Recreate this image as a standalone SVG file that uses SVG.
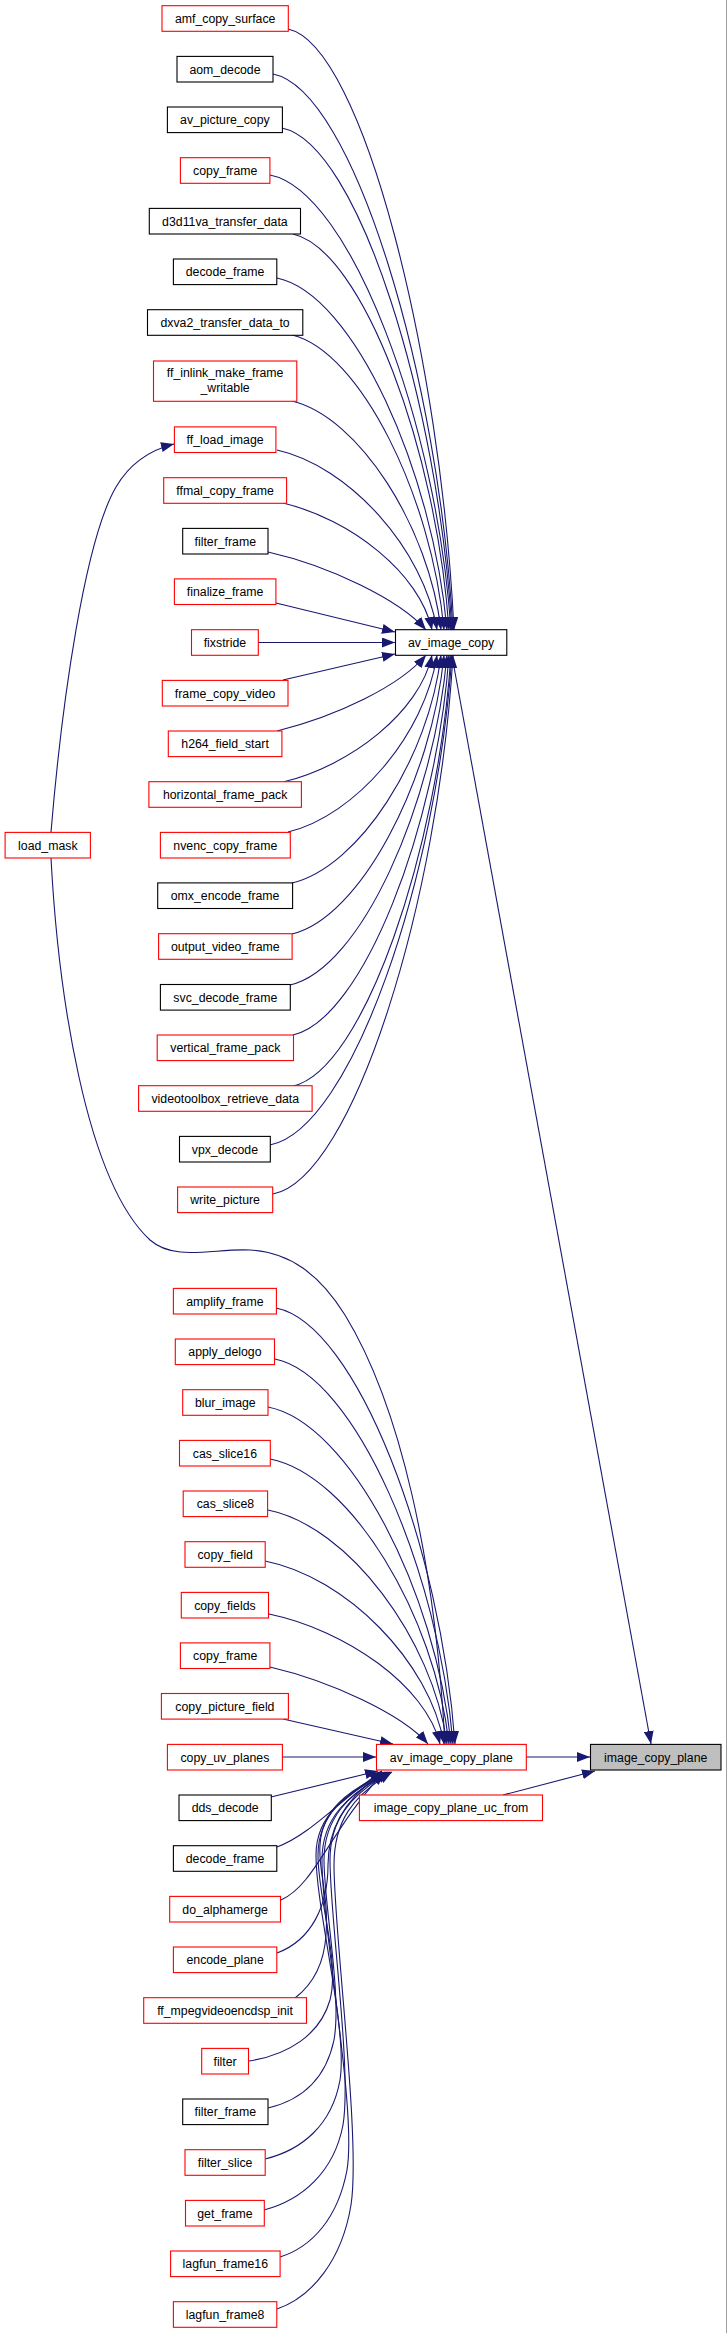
<svg xmlns="http://www.w3.org/2000/svg" width="727" height="2333" viewBox="0 0 727 2333">
<defs>
<style>
.n rect{fill:#ffffff;stroke:#000000;stroke-width:1.1}
.n.r rect{stroke:#ff0000}
.n.g rect{fill:#bfbfbf}
.n text{font-family:"Liberation Sans",Arial,sans-serif;font-size:12.3px;fill:#000000;text-anchor:middle}
#edges path{fill:none;stroke:#191970;stroke-width:1.1;marker-end:url(#a)}
</style>
<marker id="a" viewBox="0 0 13 10" refX="13" refY="5" markerWidth="13" markerHeight="10" markerUnits="userSpaceOnUse" orient="auto"><path d="M0,0L13,5L0,10z" fill="#191970"/></marker>
</defs>
<rect width="727" height="2333" fill="#ffffff"/>
<rect x="726" y="0" width="1" height="2333" fill="#a0a0a0"/>
<g id="edges">
<path d="M288,29 C363,45 441,360 454,630"/>
<path d="M273,74 C354,90 439,380 453,630"/>
<path d="M282,128 C359,144 438,404 452,630"/>
<path d="M270,175 C351,191 437,425 451,630"/>
<path d="M293,234 C363,250 437,452 449,630"/>
<path d="M277,278 C354,294 433,472 447,630"/>
<path d="M292,335 C360,351 432,497 444,630"/>
<path d="M292,401 C359,417 429,527 441,630"/>
<path d="M277,450 C349,466 424,549 437,630"/>
<path d="M283,503 C350,519 420,573 432,630"/>
<path d="M268,552 C330,566 400,600 426,630"/>
<path d="M276,603 L395,632"/>
<path d="M258,642.5 L395,642.5"/>
<path d="M283,680 L395,654"/>
<path d="M277,731 C337,716 400,686 426,655"/>
<path d="M283,782 C350,766 420,712 432,655"/>
<path d="M288,832 C355,816 425,735 437,655"/>
<path d="M292,883 C359,867 429,758 441,655"/>
<path d="M292,934 C360,918 432,781 444,655"/>
<path d="M290,985 C361,969 434,804 447,655"/>
<path d="M293,1035 C363,1019 437,826 449,655"/>
<path d="M293,1086 C364,1070 438,849 451,655"/>
<path d="M270,1145 C352,1129 437,876 452,655"/>
<path d="M273,1194 C354,1178 439,898 453,655"/>
<path d="M51,832 C62,700 85,540 116,487 C130,463 150,450 174,444"/>
<path d="M51,858 C58,990 85,1180 150,1240 C175,1262 215,1248 250,1250 C290,1252 320,1275 345,1315 C400,1405 435,1560 445,1744"/>
<path d="M452,656 L651,1744"/>
<path d="M276,1308 C357,1324 441,1548 455,1744"/>
<path d="M275,1359 C355,1375 439,1571 453,1744"/>
<path d="M268,1407 C350,1423 436,1592 451,1744"/>
<path d="M270,1459 C351,1475 435,1616 449,1744"/>
<path d="M268,1510 C348,1526 433,1639 447,1744"/>
<path d="M265,1561 C346,1577 430,1662 444,1744"/>
<path d="M269,1614 C346,1630 426,1686 440,1744"/>
<path d="M270,1667 C330,1681 402,1714 428,1744"/>
<path d="M283,1719 L393,1744"/>
<path d="M282,1757 L376,1757"/>
<path d="M271,1797 L378,1771"/>
<path d="M277,1847 C310,1835 340,1800 382,1771"/>
<path d="M281,1900 C315,1885 330,1830 384,1772"/>
<path d="M277,1953 C312,1940 328,1905 328,1865 C328,1825 348,1795 385,1772"/>
<path d="M295,1998 C312,1985 324,1965 326,1935 C329,1895 318,1870 320,1845 C322,1810 346,1792 386,1772"/>
<path d="M249,2061 C288,2055 320,2035 330,2000 C340,1960 318,1900 318,1855 C318,1815 346,1792 387,1772"/>
<path d="M268,2108 C302,2100 326,2078 334,2040 C342,1995 324,1905 324,1860 C324,1818 348,1794 388,1772"/>
<path d="M265,2159 C302,2150 332,2125 340,2080 C348,2030 316,1910 316,1855 C316,1815 346,1793 389,1772"/>
<path d="M264,2210 C302,2200 334,2172 343,2125 C352,2070 330,1920 330,1860 C330,1820 350,1795 390,1772"/>
<path d="M280,2257 C312,2247 338,2218 347,2170 C357,2110 322,1930 322,1860 C322,1818 347,1794 391,1772"/>
<path d="M277,2309 C312,2297 342,2260 351,2205 C361,2140 334,1935 334,1865 C334,1822 352,1796 392,1772"/>
<path d="M526,1757 L590,1757"/>
<path d="M503,1795 L595,1771"/>
</g>
<g id="n_image_copy_plane" class="n g"><rect x="590.5" y="1744.4" width="130.5" height="25.6"/><text x="655.7" y="1761.6">image_copy_plane</text></g>
<g id="n_av_image_copy" class="n"><rect x="395.5" y="629.7" width="111.3" height="25.6"/><text x="451.1" y="646.9">av_image_copy</text></g>
<g id="n_av_image_copy_plane" class="n r"><rect x="376.5" y="1744.4" width="149.8" height="25.6"/><text x="451.4" y="1761.6">av_image_copy_plane</text></g>
<g id="n_image_copy_plane_uc_from" class="n r"><rect x="359.4" y="1795" width="183.1" height="25.6"/><text x="451" y="1812.2">image_copy_plane_uc_from</text></g>
<g id="n_load_mask" class="n r"><rect x="5.1" y="832.4" width="85.3" height="25.6"/><text x="47.8" y="849.6">load_mask</text></g>
<g id="n_amf_copy_surface" class="n r"><rect x="162" y="5.7" width="126.3" height="25.6"/><text x="225.2" y="22.9">amf_copy_surface</text></g>
<g id="n_aom_decode" class="n"><rect x="177" y="56.4" width="96" height="25.6"/><text x="225" y="73.6">aom_decode</text></g>
<g id="n_av_picture_copy" class="n"><rect x="167.4" y="107" width="115" height="25.6"/><text x="224.9" y="124.2">av_picture_copy</text></g>
<g id="n_copy_frame_a" class="n r"><rect x="180.4" y="157.7" width="89.5" height="25.6"/><text x="225.2" y="174.9">copy_frame</text></g>
<g id="n_d3d11va_transfer_data" class="n"><rect x="149.3" y="208.4" width="151.2" height="25.6"/><text x="224.9" y="225.6">d3d11va_transfer_data</text></g>
<g id="n_decode_frame_a" class="n"><rect x="173.4" y="259" width="103.4" height="25.6"/><text x="225.1" y="276.2">decode_frame</text></g>
<g id="n_dxva2_transfer_data_to" class="n"><rect x="147.5" y="309.7" width="155.3" height="25.6"/><text x="225.1" y="326.9">dxva2_transfer_data_to</text></g>
<g id="n_ff_inlink_make_frame_writable" class="n r"><rect x="153.5" y="361" width="143.3" height="40.3"/><text x="225.1" y="377.3">ff_inlink_make_frame</text><text x="225.1" y="391.8">_writable</text></g>
<g id="n_ff_load_image" class="n r"><rect x="174.4" y="426.9" width="101.5" height="25.6"/><text x="225.1" y="444.1">ff_load_image</text></g>
<g id="n_ffmal_copy_frame" class="n r"><rect x="163.7" y="477.7" width="122.9" height="25.6"/><text x="225.1" y="494.9">ffmal_copy_frame</text></g>
<g id="n_filter_frame_a" class="n"><rect x="182.7" y="528.4" width="85.3" height="25.6"/><text x="225.3" y="545.6">filter_frame</text></g>
<g id="n_finalize_frame" class="n r"><rect x="174.4" y="578.9" width="101.5" height="25.6"/><text x="225.1" y="596.1">finalize_frame</text></g>
<g id="n_fixstride" class="n r"><rect x="191.5" y="629.7" width="66.8" height="25.6"/><text x="224.9" y="646.9">fixstride</text></g>
<g id="n_frame_copy_video" class="n r"><rect x="162.3" y="680.4" width="125.7" height="25.6"/><text x="225.1" y="697.6">frame_copy_video</text></g>
<g id="n_h264_field_start" class="n r"><rect x="168.3" y="731" width="113.6" height="25.6"/><text x="225.1" y="748.2">h264_field_start</text></g>
<g id="n_horizontal_frame_pack" class="n r"><rect x="148.9" y="781.7" width="152.5" height="25.6"/><text x="225.1" y="798.9">horizontal_frame_pack</text></g>
<g id="n_nvenc_copy_frame" class="n r"><rect x="160.4" y="832.4" width="129.9" height="25.6"/><text x="225.3" y="849.6">nvenc_copy_frame</text></g>
<g id="n_omx_encode_frame" class="n"><rect x="157.7" y="882.9" width="134.9" height="25.6"/><text x="225.1" y="900.1">omx_encode_frame</text></g>
<g id="n_output_video_frame" class="n r"><rect x="158.6" y="933.7" width="133.5" height="25.6"/><text x="225.3" y="950.9">output_video_frame</text></g>
<g id="n_svc_decode_frame" class="n"><rect x="160.4" y="984.5" width="129.9" height="25.6"/><text x="225.3" y="1001.7">svc_decode_frame</text></g>
<g id="n_vertical_frame_pack" class="n r"><rect x="157.2" y="1035" width="136.3" height="25.6"/><text x="225.3" y="1052.2">vertical_frame_pack</text></g>
<g id="n_videotoolbox_retrieve_data" class="n r"><rect x="138.6" y="1085.7" width="173.5" height="25.6"/><text x="225.3" y="1102.9">videotoolbox_retrieve_data</text></g>
<g id="n_vpx_decode" class="n"><rect x="179.5" y="1136.4" width="90.8" height="25.6"/><text x="224.9" y="1153.6">vpx_decode</text></g>
<g id="n_write_picture" class="n r"><rect x="177.6" y="1187" width="95.1" height="25.6"/><text x="225.1" y="1204.2">write_picture</text></g>
<g id="n_amplify_frame" class="n r"><rect x="173.4" y="1288.4" width="103" height="25.6"/><text x="224.9" y="1305.6">amplify_frame</text></g>
<g id="n_apply_delogo" class="n r"><rect x="175.3" y="1339" width="99.2" height="25.6"/><text x="224.9" y="1356.2">apply_delogo</text></g>
<g id="n_blur_image" class="n r"><rect x="182.7" y="1389.7" width="85.3" height="25.6"/><text x="225.3" y="1406.9">blur_image</text></g>
<g id="n_cas_slice16" class="n r"><rect x="179.5" y="1440.4" width="90.8" height="25.6"/><text x="224.9" y="1457.6">cas_slice16</text></g>
<g id="n_cas_slice8" class="n r"><rect x="183.2" y="1491" width="84.4" height="25.6"/><text x="225.4" y="1508.2">cas_slice8</text></g>
<g id="n_copy_field" class="n r"><rect x="185" y="1541.7" width="80.2" height="25.6"/><text x="225.1" y="1558.9">copy_field</text></g>
<g id="n_copy_fields" class="n r"><rect x="181.3" y="1592.4" width="87.2" height="25.6"/><text x="224.9" y="1609.6">copy_fields</text></g>
<g id="n_copy_frame_b" class="n r"><rect x="180.4" y="1642.9" width="89.5" height="25.6"/><text x="225.2" y="1660.1">copy_frame</text></g>
<g id="n_copy_picture_field" class="n r"><rect x="161.4" y="1693.5" width="127" height="25.6"/><text x="224.9" y="1710.7">copy_picture_field</text></g>
<g id="n_copy_uv_planes" class="n r"><rect x="167.4" y="1744.4" width="115" height="25.6"/><text x="224.9" y="1761.6">copy_uv_planes</text></g>
<g id="n_dds_decode" class="n"><rect x="179" y="1795" width="92.3" height="25.6"/><text x="225.2" y="1812.2">dds_decode</text></g>
<g id="n_decode_frame_b" class="n"><rect x="173.4" y="1845.7" width="103.4" height="25.6"/><text x="225.1" y="1862.9">decode_frame</text></g>
<g id="n_do_alphamerge" class="n r"><rect x="169.7" y="1896.4" width="110.8" height="25.6"/><text x="225.1" y="1913.6">do_alphamerge</text></g>
<g id="n_encode_plane" class="n r"><rect x="173.4" y="1947" width="103.4" height="25.6"/><text x="225.1" y="1964.2">encode_plane</text></g>
<g id="n_ff_mpegvideoencdsp_init" class="n r"><rect x="143.7" y="1997.7" width="162.8" height="25.6"/><text x="225.1" y="2014.9">ff_mpegvideoencdsp_init</text></g>
<g id="n_filter" class="n r"><rect x="201.7" y="2048.4" width="46.8" height="25.6"/><text x="225.1" y="2065.6">filter</text></g>
<g id="n_filter_frame_b" class="n"><rect x="182.7" y="2099" width="85.3" height="25.6"/><text x="225.3" y="2116.2">filter_frame</text></g>
<g id="n_filter_slice" class="n r"><rect x="185" y="2149.7" width="80.2" height="25.6"/><text x="225.1" y="2166.9">filter_slice</text></g>
<g id="n_get_frame" class="n r"><rect x="185.5" y="2200.4" width="78.8" height="25.6"/><text x="224.9" y="2217.6">get_frame</text></g>
<g id="n_lagfun_frame16" class="n r"><rect x="170.6" y="2251" width="109.5" height="25.6"/><text x="225.3" y="2268.2">lagfun_frame16</text></g>
<g id="n_lagfun_frame8" class="n r"><rect x="173.4" y="2301.7" width="103.4" height="25.6"/><text x="225.1" y="2318.9">lagfun_frame8</text></g>
</svg>
